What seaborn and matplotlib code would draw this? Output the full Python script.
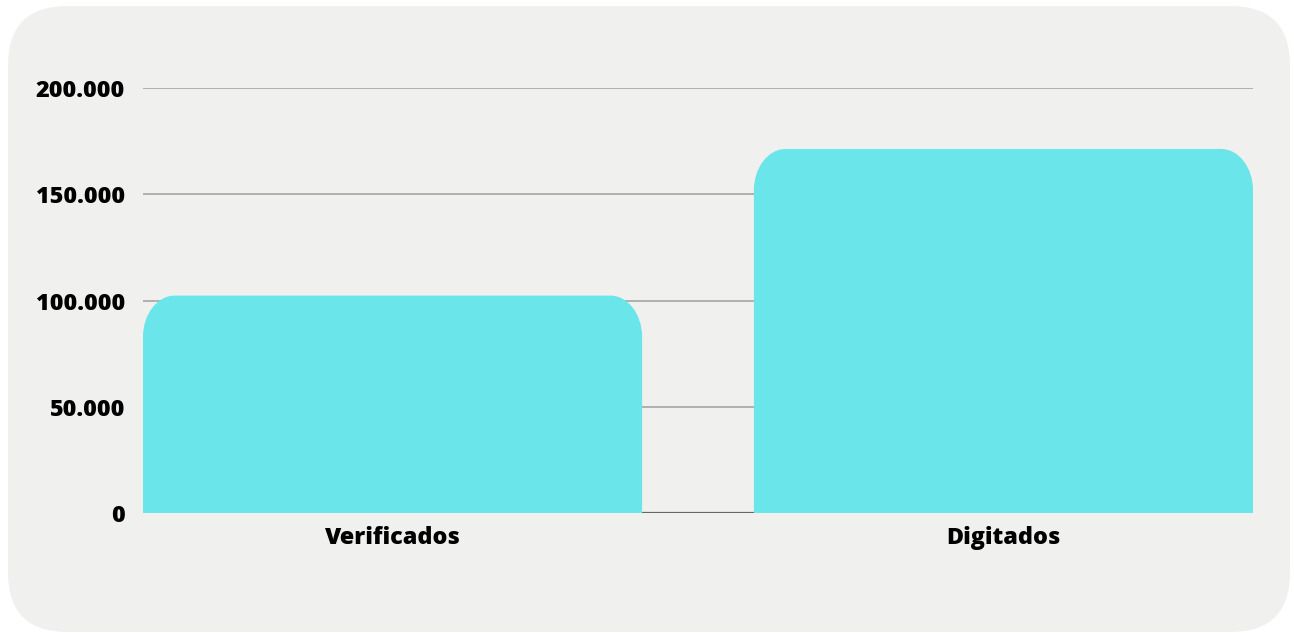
import pandas as pd
import seaborn as sns
import matplotlib.pyplot as plt
from matplotlib.patches import FancyBboxPatch, PathPatch
from matplotlib.path import Path
from matplotlib.ticker import FuncFormatter

# data
categories = ['Verificados', 'Digitados']
values = [102300, 171300]

bar_color = '#6ae5e9'
panel_color = '#f0f0ee'

sns.set_style('white')
plt.rcParams['font.family'] = ['Open Sans', 'DejaVu Sans']

fig = plt.figure(figsize=(12.94, 6.33), dpi=100)
fig.patch.set_facecolor('white')

# rounded background panel
panel = FancyBboxPatch((8 / 1294, 1 - 632 / 633), 1282 / 1294, 626 / 633,
                       boxstyle='round,pad=0,rounding_size=0.046',
                       mutation_aspect=1294 / 633,
                       transform=fig.transFigure, facecolor=panel_color,
                       edgecolor='none', zorder=-5)
fig.add_artist(panel)

ax = fig.add_axes([143 / 1294, 1 - 513 / 633, 1110 / 1294, 425 / 633])
ax.set_facecolor('none')
ax.set_zorder(2)

df = pd.DataFrame({'cat': categories, 'val': values})
sns.barplot(data=df, x='cat', y='val', color=bar_color, width=0.817,
            saturation=1, ax=ax, zorder=3)

# rounded top corners for bars
rx, ry = 0.052, 19500
for p in list(ax.patches):
    x0, w, h = p.get_x(), p.get_width(), p.get_height()
    x1 = x0 + w
    k = 0.5523
    verts = [(x0, 0), (x0, h - ry),
             (x0, h - ry + k * ry), (x0 + rx - k * rx, h), (x0 + rx, h),
             (x1 - rx, h),
             (x1 - rx + k * rx, h), (x1, h - ry + k * ry), (x1, h - ry),
             (x1, 0), (x0, 0)]
    codes = [Path.MOVETO, Path.LINETO,
             Path.CURVE4, Path.CURVE4, Path.CURVE4,
             Path.LINETO,
             Path.CURVE4, Path.CURVE4, Path.CURVE4,
             Path.LINETO, Path.CLOSEPOLY]
    ax.add_patch(PathPatch(Path(verts, codes), facecolor=bar_color,
                           edgecolor='none', zorder=3))
    p.set_visible(False)

ax.set_xlim(-0.4085, 1.4085)
ax.set_ylim(0, 200000)
ax.set_yticks([0, 50000, 100000, 150000, 200000])
ax.yaxis.set_major_formatter(FuncFormatter(lambda v, _: f'{int(v):,}'.replace(',', '.')))

for y in [50000, 100000, 150000, 200000]:
    ax.axhline(y, color='#b0b0b0', lw=1.4, zorder=1)
ax.axhline(0, color='#666666', lw=1.6, zorder=2)

for s in ax.spines.values():
    s.set_visible(False)
ax.tick_params(axis='both', length=0, labelsize=16.8, colors='black')
ax.tick_params(axis='y', pad=13)
ax.tick_params(axis='x', pad=9.5)
for lab in ax.get_xticklabels() + ax.get_yticklabels():
    lab.set_fontweight(800)
ax.set_xlabel('')
ax.set_ylabel('')

plt.savefig('out.png', dpi=100, facecolor='white')
